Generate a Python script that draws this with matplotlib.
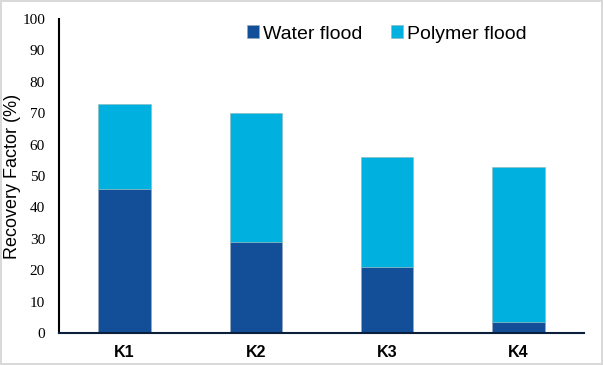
import matplotlib.pyplot as plt
import numpy as np

## данные
wells = ['K1', 'K2', 'K3', 'K4']
water_flood = [46, 29, 21, 3.5]
polymer_flood = [27, 41, 35, 49.5]

c_water = '#134F98'
c_polymer = '#00B0DE'

fig = plt.figure(figsize=(6.03, 3.65), dpi=100)
fig.patch.set_edgecolor('#d9d9d9')
fig.patch.set_linewidth(1.5)
ax = fig.add_axes([0.0978, 0.0877, 0.8707, 0.8603])

x = np.arange(len(wells))
ax.bar(x, water_flood, width=0.4, color=c_water, edgecolor='#9aa6b8', linewidth=0.4,
       label='Water flood')
ax.bar(x, polymer_flood, width=0.4, bottom=water_flood, color=c_polymer,
       edgecolor='#8fb5b8', linewidth=0.4, label='Polymer flood')

ax.set_xlim(-0.5, 3.5)
ax.set_ylim(0, 100)
ax.set_yticks(np.arange(0, 101, 10))
ax.set_yticklabels([str(v) for v in range(0, 101, 10)], family='Liberation Serif',
                   fontsize=11)
ax.set_xticks(x)
ax.set_xticklabels(wells, family='Liberation Sans', fontsize=11.5, fontweight='bold')
ax.tick_params(axis='both', length=0)
ax.tick_params(axis='x', pad=9)
ax.tick_params(axis='y', pad=10)

ax.set_ylabel('Recovery Factor (%)', family='Liberation Sans', fontsize=13, labelpad=1)

for s in ['top', 'right']:
    ax.spines[s].set_visible(False)
ax.spines['left'].set_linewidth(1.5)
ax.spines['left'].set_color('black')
ax.spines['bottom'].set_linewidth(1.5)
ax.spines['bottom'].set_color('#0b1f3a')

ax.legend(loc='upper left', bbox_to_anchor=(0.325, 1.035), ncol=2, frameon=False,
          prop={'family': 'Liberation Sans', 'size': 14},
          handlelength=0.6, handleheight=0.6, handletextpad=0.2, columnspacing=1.5)

fig.savefig('out.png', dpi=100)
